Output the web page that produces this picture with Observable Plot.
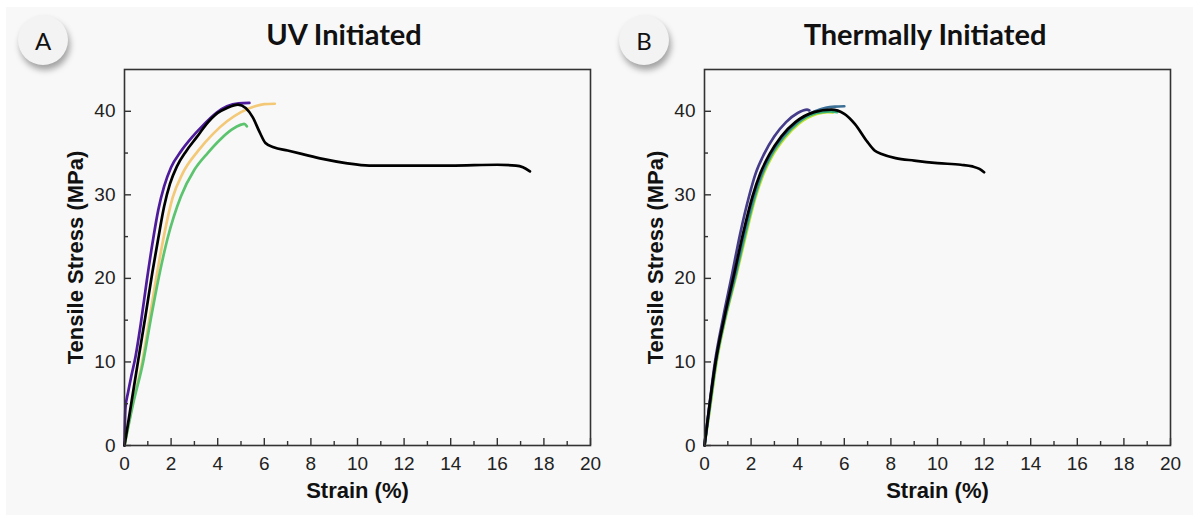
<!DOCTYPE html>
<html><head><meta charset="utf-8">
<script src="https://cdn.jsdelivr.net/npm/d3@7"></script>
<script src="https://cdn.jsdelivr.net/npm/@observablehq/plot@0.6"></script>
<style>
html,body{margin:0;padding:0;background:#fff;}
#page{position:relative;width:1193px;height:515px;overflow:hidden;background:#fff;}
#bg{position:absolute;left:6px;top:7px;right:0;bottom:0;background:#f8f8f8;}
.badge{position:absolute;width:50px;height:50px;border-radius:50%;background:#f3f3f3;box-shadow:2px 5px 6px rgba(0,0,0,0.35);font-family:Lato,sans-serif;font-size:24px;color:#111;display:flex;align-items:center;justify-content:center;}
.panel{position:absolute;top:60px;}
#overlay{position:absolute;left:0;top:0;}
.panel svg, .panel svg text{font-family:Arial, "Liberation Sans", sans-serif;}
</style></head><body>
<div id="page">
  <div id="bg"></div>
  <div class="badge" style="left:18px;top:15px">A</div>
  <div class="badge" style="left:619px;top:15px">B</div>
  <svg id="overlay" width="1193" height="60">
    <text id="tA" x="344" y="45" text-anchor="middle" font-family="Lato, sans-serif" font-weight="bold" font-size="29" fill="#111"></text>
    <text id="tB" x="925" y="45" text-anchor="middle" font-family="Lato, sans-serif" font-weight="bold" font-size="29" fill="#111"></text>
  </svg>
  <div class="panel" id="pA" style="left:0px"></div>
  <div class="panel" id="pB" style="left:580px"></div>
</div>
<script>
// ---- Titles and labels ----
const panelTitles = ["UV Initiated", "Thermally Initiated"];
const xTitle = "Strain (%)";
const yTitle = "Tensile Stress (MPa)";

// ---- Ticks ----
const xMajor = [0, 2, 4, 6, 8, 10, 12, 14, 16, 18, 20];
const xTickLabels = ["0", "2", "4", "6", "8", "10", "12", "14", "16", "18", "20"];
const xMinor = [1, 3, 5, 7, 9, 11, 13, 15, 17, 19];
const yMajor = [0, 10, 20, 30, 40];
const yMinor = [5, 15, 25, 35];

// ---- Panel A: UV initiated ----
const uvYellowStrain = [0, 0.35, 0.76, 1.06, 1.36, 1.7, 2.06, 2.5, 3.14, 3.8, 4.4, 5.0, 5.6, 6.0, 6.45];
const uvYellowStress = [0, 5, 10, 15, 20, 25.2, 29.6, 32.6, 35.2, 37.3, 38.8, 39.9, 40.6, 40.85, 40.9];
const uvGreenStrain = [0, 0.37, 0.8, 1.12, 1.44, 1.85, 2.42, 3.0, 3.57, 4.1, 4.6, 5.0, 5.14, 5.25];
const uvGreenStress = [0, 5, 10, 15, 19.7, 24.8, 29.8, 33.0, 35.0, 36.6, 37.8, 38.4, 38.5, 38.2];
const uvPurpleStrain = [0, 0.04, 0.15, 0.3, 0.47, 0.7, 0.95, 1.2, 1.45, 1.7, 2.0, 2.42, 2.9, 3.4, 3.93, 4.4, 4.9, 5.36];
const uvPurpleStress = [0, 4.5, 6.3, 8.4, 10.6, 14.6, 19.6, 24.2, 28.2, 31.0, 33.3, 35.2, 36.9, 38.4, 39.8, 40.6, 40.95, 41.0];
const uvBlackStrain = [0, 0.3, 0.6, 0.9, 1.2, 1.45, 1.7, 1.95, 2.25, 2.64, 3.1, 3.5, 4.0, 4.4, 4.87, 5.2, 5.5, 5.8, 6.05, 6.4, 7.0, 7.6, 8.5, 9.5, 10.5, 12, 14, 16, 16.8, 17.1, 17.4];
const uvBlackStress = [0, 5.2, 10.4, 15.5, 20.8, 24.8, 28.6, 31.3, 33.4, 35.2, 36.9, 38.4, 39.8, 40.4, 40.8, 40.4, 39.3, 37.5, 36.2, 35.7, 35.3, 34.9, 34.3, 33.8, 33.5, 33.5, 33.5, 33.6, 33.5, 33.3, 32.8];

// ---- Panel B: thermally initiated ----
const thYellowStrain = [0, 0.23, 0.52, 0.9, 1.36, 1.76, 2.18, 2.55, 2.9, 3.45, 4.05, 4.85, 5.3, 5.5];
const thYellowStress = [0, 4.3, 10, 15.2, 20.3, 25, 29.6, 32.6, 34.6, 36.8, 38.5, 39.7, 39.9, 39.85];
const thGreenStrain = [0, 0.22, 0.5, 0.88, 1.33, 1.72, 2.14, 2.5, 2.86, 3.4, 4.0, 4.8, 5.4, 5.7];
const thGreenStress = [0, 4.4, 10, 15.2, 20.3, 25, 29.6, 32.6, 34.7, 36.9, 38.6, 39.8, 40.0, 39.9];
const thBlueStrain = [0, 0.2, 0.48, 0.86, 1.3, 1.68, 2.1, 2.45, 2.82, 3.35, 3.95, 4.75, 5.2, 5.6, 6.0];
const thBlueStress = [0, 4.4, 10, 15.3, 20.4, 25.2, 29.8, 32.6, 34.8, 37.0, 38.7, 40.0, 40.4, 40.55, 40.6];
const thPurpleStrain = [0, 0.2, 0.45, 0.8, 1.17, 1.52, 1.91, 2.2, 2.56, 3.0, 3.5, 4.0, 4.4, 4.5];
const thPurpleStress = [0, 4.6, 10, 15.3, 20.3, 25.2, 29.8, 32.6, 34.9, 37.0, 38.7, 39.8, 40.2, 40.1];
const thBlackStrain = [0, 0.2, 0.475, 0.85, 1.27, 1.65, 2.06, 2.4, 2.78, 3.3, 3.9, 4.7, 5.44, 6.0, 6.45, 7.0, 7.3, 7.6, 8.2, 9.0, 10.0, 11.0, 11.5, 11.8, 12.0];
const thBlackStress = [0, 4.5, 10, 15.3, 20.5, 25.3, 29.8, 32.6, 34.8, 37.0, 38.7, 39.9, 40.2, 39.7, 38.5, 36.3, 35.3, 34.9, 34.4, 34.1, 33.8, 33.6, 33.4, 33.1, 32.7];

const rows = (xs, ys) => xs.map((x, i) => ({strain: x, stress: ys[i]}));

const seriesA = [
  {color: "#f3c977", data: rows(uvYellowStrain, uvYellowStress)},
  {color: "#5cc46f", data: rows(uvGreenStrain, uvGreenStress)},
  {color: "#4d1b9b", data: rows(uvPurpleStrain, uvPurpleStress)},
  {color: "#000000", data: rows(uvBlackStrain, uvBlackStress)}
];
const seriesB = [
  {color: "#c6df2c", data: rows(thYellowStrain, thYellowStress)},
  {color: "#35b17a", data: rows(thGreenStrain, thGreenStress)},
  {color: "#3b6f96", data: rows(thBlueStrain, thBlueStress)},
  {color: "#453c8a", data: rows(thPurpleStrain, thPurpleStress)},
  {color: "#000000", data: rows(thBlackStrain, thBlackStress)}
];

const FONT = "Arial, 'Liberation Sans', sans-serif";

function panel(series) {
  const W = 600, H = 455, mL = 124, mR = 10, mT = 9, mB = 70;
  const plotH = H - mT - mB, plotW = W - mL - mR;
  const axisColor = "#333";
  return Plot.plot({
    width: W, height: H,
    marginLeft: mL, marginRight: mR, marginTop: mT, marginBottom: mB,
    style: {background: "transparent", fontFamily: FONT, fontSize: "19px", color: "#222", overflow: "visible"},
    x: {domain: [0, 20], label: null},
    y: {domain: [0, 45], label: null},
    marks: [
      ...series.map(s => Plot.line(s.data, {x: "strain", y: "stress", stroke: s.color, strokeWidth: 2.7, curve: "monotone-x"})),
      Plot.frame({stroke: axisColor, strokeWidth: 1.6}),
      Plot.tickX(xMajor, {x: d => d, insetTop: plotH - 7, stroke: axisColor, strokeWidth: 1.4}),
      Plot.tickX(xMinor, {x: d => d, insetTop: plotH - 4, stroke: axisColor, strokeWidth: 1.4}),
      Plot.tickY(yMajor, {y: d => d, insetRight: plotW - 7, stroke: axisColor, strokeWidth: 1.4}),
      Plot.tickY(yMinor, {y: d => d, insetRight: plotW - 4, stroke: axisColor, strokeWidth: 1.4}),
      Plot.axisX({ticks: xMajor, tickSize: 0, tickPadding: 11, label: null, fontSize: 19, fontFamily: FONT, tickFormat: d => xTickLabels[xMajor.indexOf(d)]}),
      Plot.axisY({ticks: yMajor, tickSize: 0, tickPadding: 9, label: null, fontSize: 19, fontFamily: FONT}),
      Plot.text([xTitle], {frameAnchor: "bottom", dy: 52, text: d => d, fontWeight: "bold", fontSize: 22, fontFamily: FONT, fill: "#111"}),
      Plot.text([yTitle], {frameAnchor: "left", dx: -49, rotate: -90, textAnchor: "middle", text: d => d, fontWeight: "bold", fontSize: 22, fontFamily: FONT, fill: "#111"})
    ]
  });
}

document.getElementById("tA").textContent = panelTitles[0];
document.getElementById("tB").textContent = panelTitles[1];
document.getElementById("pA").appendChild(panel(seriesA));
document.getElementById("pB").appendChild(panel(seriesB));
</script>
</body></html>
